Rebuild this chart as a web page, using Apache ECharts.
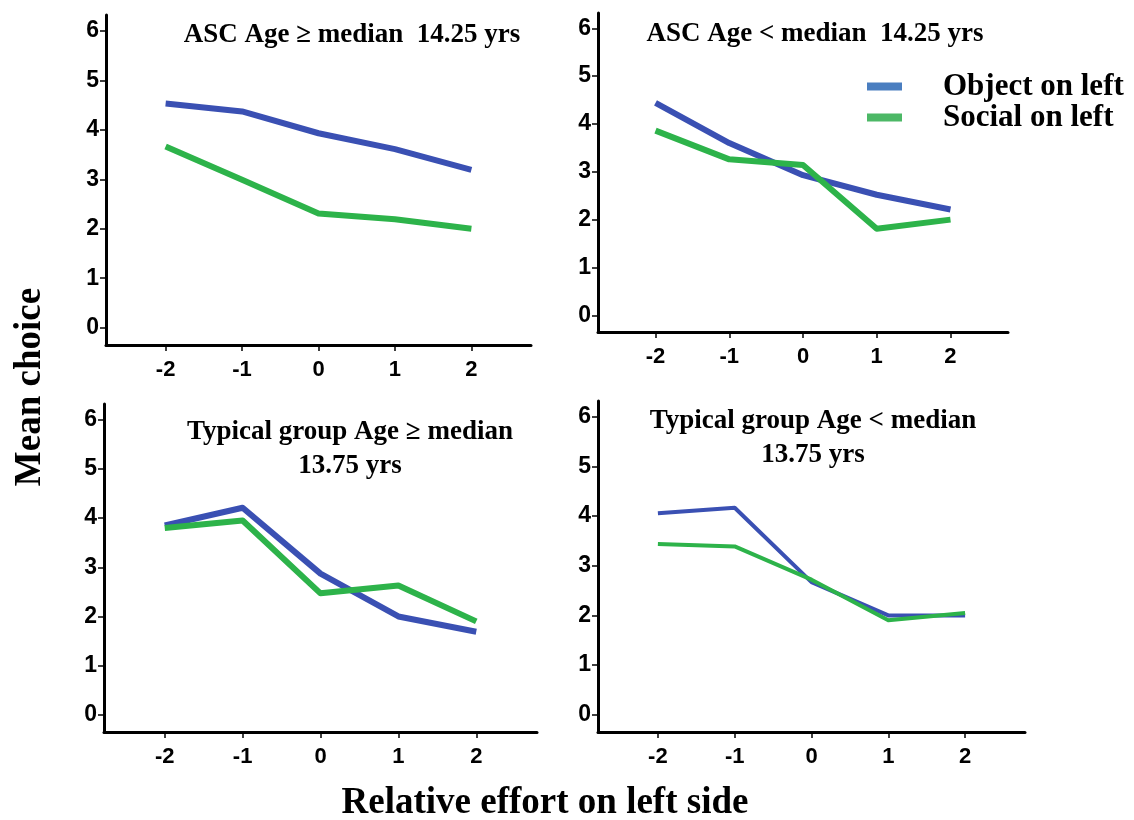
<!DOCTYPE html>
<html>
<head>
<meta charset="utf-8">
<script src="https://cdn.jsdelivr.net/npm/echarts@6/dist/echarts.min.js"></script>
<style>html,body{margin:0;padding:0;background:#fff;}#chart{width:1134px;height:820px;}</style>
</head>
<body>
<div id="chart"></div>
<script>
const effort = [-2, -1, 0, 1, 2];
const yTicks = [0, 1, 2, 3, 4, 5, 6];
const seriesNames = ['Object on left', 'Social on left'];
const panelTitles = [
  'ASC Age \u2265 median  14.25 yrs',
  'ASC Age < median  14.25 yrs',
  'Typical group Age \u2265 median\n13.75 yrs',
  'Typical group Age < median\n13.75 yrs'
];
const ascOldObject = [4.53, 4.37, 3.93, 3.61, 3.19];
const ascOldSocial = [3.66, 2.99, 2.31, 2.19, 2.00];
const ascYoungObject = [4.44, 3.60, 2.93, 2.52, 2.21];
const ascYoungSocial = [3.86, 3.26, 3.14, 1.81, 2.00];
const typOldObject = [3.85, 4.21, 2.87, 2.00, 1.69];
const typOldSocial = [3.80, 3.95, 2.47, 2.63, 1.90];
const typYoungObject = [4.06, 4.17, 2.67, 2.00, 2.00];
const typYoungSocial = [3.44, 3.39, 2.72, 1.90, 2.05];
const xAxisTitle = 'Relative effort on left side';
const yAxisTitle = 'Mean choice';

const panelData = [
  [ascOldObject, ascOldSocial],
  [ascYoungObject, ascYoungSocial],
  [typOldObject, typOldSocial],
  [typYoungObject, typYoungSocial]
];

// layout (pixels)
const grids = [
  {left: 106, top: 15, width: 425, height: 330},
  {left: 598, top: 13, width: 410, height: 319},
  {left: 104, top: 404, width: 433, height: 328},
  {left: 598, top: 401, width: 427, height: 331}
];
const lineWidths = [6, 6, 6, 4];
const titlePos = [[352, 35], [815, 34], [350, 449], [813, 438]];
const seriesColors = ['#3a50b3', '#2db34a'];
const legendColors = ['#4a7ec0', '#4cb866'];

const chart = echarts.init(document.getElementById('chart'), null, {renderer: 'canvas'});

const xAxes = [], yAxes = [], series = [];
grids.forEach((g, i) => {
  xAxes.push({
    gridIndex: i, type: 'value', min: -2.78, max: 2.78,
    axisLine: {show: true, onZero: false, lineStyle: {color: '#000', width: 3}},
    axisTick: {show: true, customValues: effort, length: 6, lineStyle: {color: '#000', width: 1.5}},
    axisLabel: {customValues: effort, margin: 14, color: '#000', fontFamily: '"Liberation Sans", Arial', fontWeight: 'bold', fontSize: 22},
    splitLine: {show: false}
  });
  yAxes.push({
    gridIndex: i, type: 'value', min: -0.35, max: 6.32,
    axisLine: {show: true, onZero: false, lineStyle: {color: '#000', width: 3}},
    axisTick: {show: true, customValues: yTicks, length: 6, lineStyle: {color: '#000', width: 1.5}},
    axisLabel: {customValues: yTicks, margin: 7, color: '#000', fontFamily: '"Liberation Sans", Arial', fontWeight: 'bold', fontSize: 23},
    splitLine: {show: false}
  });
  panelData[i].forEach((vals, k) => {
    series.push({
      name: seriesNames[k], type: 'line', xAxisIndex: i, yAxisIndex: i,
      data: effort.map((x, j) => [x, vals[j]]),
      showSymbol: false, symbol: 'none', silent: true, animation: false,
      lineStyle: {color: seriesColors[k], width: lineWidths[i], join: 'round', cap: 'butt'},
      itemStyle: {color: seriesColors[k]}
    });
  });
});

const graphics = [];
panelTitles.forEach((t, i) => {
  graphics.push({
    type: 'text', x: titlePos[i][0], y: titlePos[i][1],
    style: {text: t, textAlign: 'center', textVerticalAlign: 'middle', fill: '#000',
      font: 'bold 27px "Liberation Serif", "Times New Roman", serif', lineHeight: 34}
  });
});
graphics.push({
  type: 'text', x: 545, y: 803,
  style: {text: xAxisTitle, textAlign: 'center', textVerticalAlign: 'middle', fill: '#000',
    font: 'bold 37px "Liberation Serif", "Times New Roman", serif'}
});
graphics.push({
  type: 'text', x: 30, y: 387, rotation: Math.PI / 2,
  style: {text: yAxisTitle, textAlign: 'center', textVerticalAlign: 'middle', fill: '#000',
    font: 'bold 37px "Liberation Serif", "Times New Roman", serif'}
});

chart.setOption({
  animation: false,
  backgroundColor: '#fff',
  grid: grids.map(g => Object.assign({containLabel: false}, g)),
  xAxis: xAxes,
  yAxis: yAxes,
  legend: {
    orient: 'vertical', left: 867, top: 71, padding: 0,
    itemWidth: 35, itemHeight: 8, itemGap: 0, icon: 'rect',
    selectedMode: false,
    data: seriesNames.map((n, k) => ({name: n, itemStyle: {color: legendColors[k]}})),
    textStyle: {fontFamily: '"Liberation Serif", "Times New Roman", serif', fontWeight: 'bold', fontSize: 31,
      color: '#000', lineHeight: 29, padding: [0, 0, 0, 36]}
  },
  graphic: graphics,
  series: series
});
</script>
</body>
</html>
